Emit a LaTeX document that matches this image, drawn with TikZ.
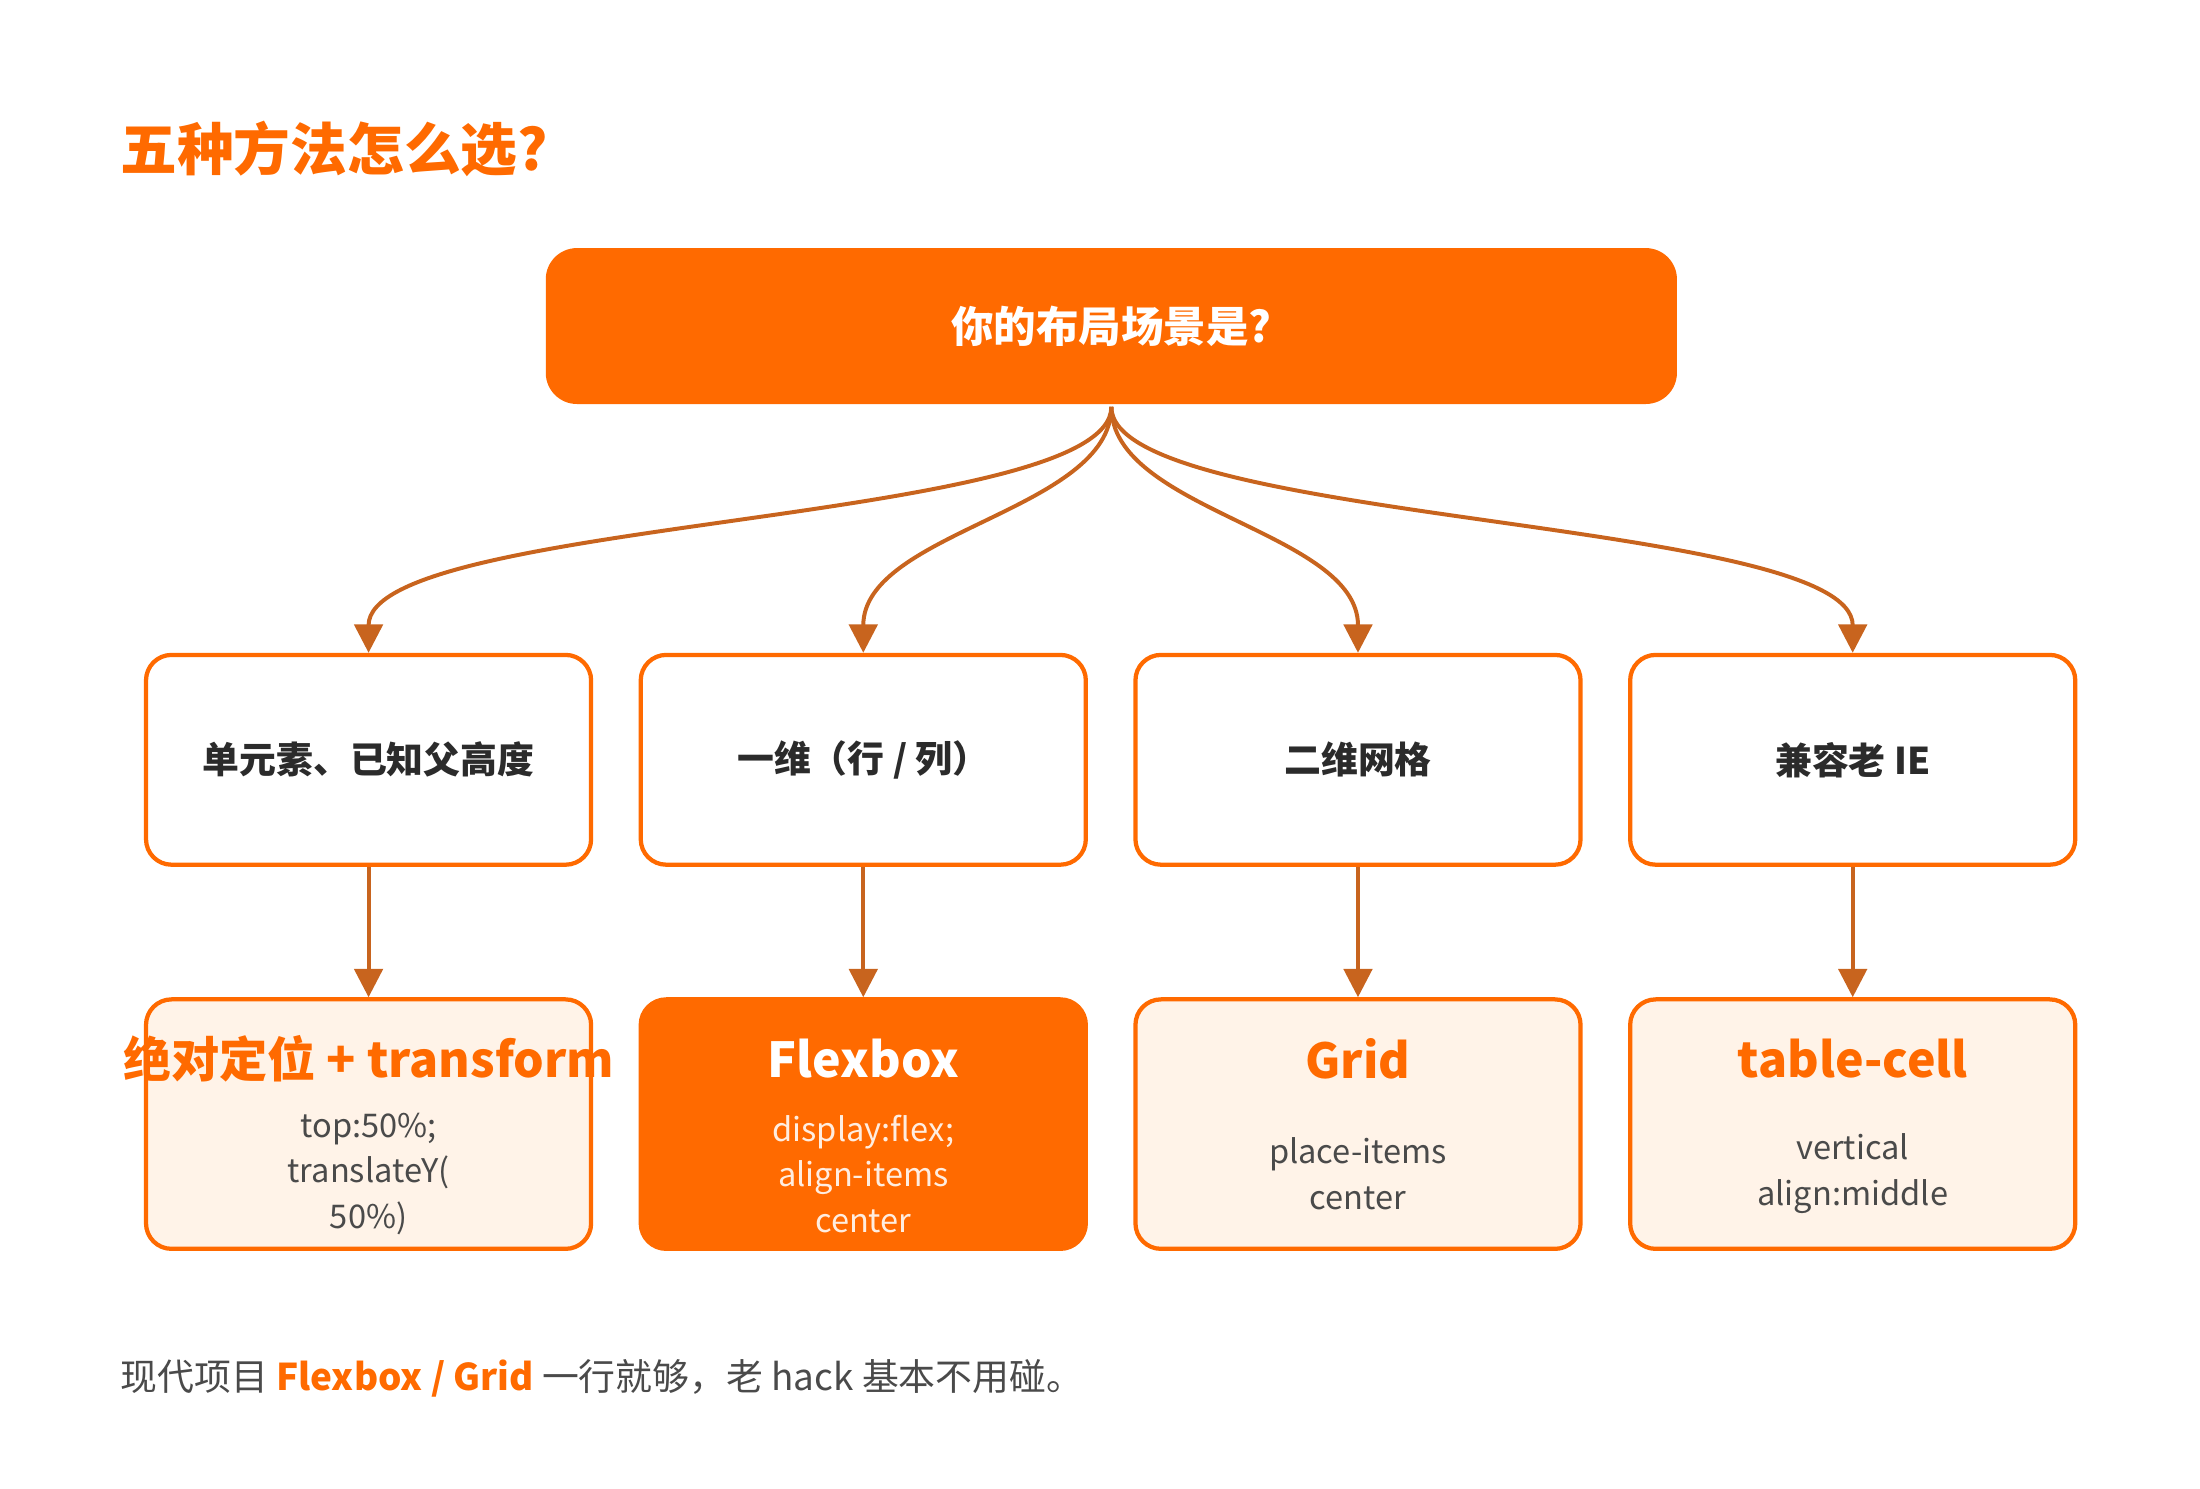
\documentclass[tikz,border=0pt]{standalone}
\usepackage{fontspec}
\setmainfont{Noto Sans CJK SC}
\usetikzlibrary{arrows.meta}
\definecolor{org}{HTML}{FF6A00}
\definecolor{arr}{HTML}{C8641E}
\definecolor{lt}{HTML}{FFF3E8}
\definecolor{dk}{HTML}{2B2B2B}
\definecolor{gr}{HTML}{4A4A4A}
\begin{document}
\begin{tikzpicture}[x=0.5pt,y=-0.5pt,
 mid/.style={draw=org,line width=1.5pt,fill=white,rounded corners=9pt,minimum width=157pt,minimum height=74pt,font=\bfseries\fontsize{13}{15}\selectfont,text=dk},
 bot/.style={draw=org,line width=1.5pt,fill=lt,rounded corners=9pt,minimum width=157pt,minimum height=88pt},
 ttl/.style={font=\bfseries\fontsize{17}{20}\selectfont,text=org},
 sub/.style={font=\fontsize{11.5}{16}\selectfont,text=gr,align=center},
 con/.style={draw=arr,line width=1.4pt,-{Triangle[length=10pt,width=10pt]}}]
\useasboundingbox (0,0) rectangle (1552,1050);
\node[anchor=west,font=\bfseries\fontsize{20}{24}\selectfont,text=org] (title) at (78,105) {五种方法怎么选?};
\node[fill=org,rounded corners=11pt,minimum width=399pt,minimum height=55pt,text=white,font=\bfseries\fontsize{15}{18}\selectfont] (top) at (784,230) {你的布局场景是?};
\node[mid] (m1) at (260,536) {单元素、已知父高度};
\node[mid] (m2) at (609,536) {一维（行 / 列）};
\node[mid] (m3) at (958,536) {二维网格};
\node[mid] (m4) at (1307,536) {兼容老 IE};
\node[bot] (b1) at (260,793) {};
\node[bot,fill=org] (b2) at (609,793) {};
\node[bot] (b3) at (958,793) {};
\node[bot] (b4) at (1307,793) {};
\node[ttl] (t1) at (260,747) {绝对定位 + transform};
\node[ttl,text=white] (t2) at (609,747) {Flexbox};
\node[ttl] (t3) at (958,747) {Grid};
\node[ttl] (t4) at (1307,747) {table-cell};
\node[sub] (s1) at (260,828) {top:50\%;\\translateY(\\50\%)};
\node[sub,text=white!88!org] (s2) at (609,828) {display:flex;\\align-items\\center};
\node[sub] (s3) at (958,828) {place-items\\center};
\node[sub] (s4) at (1307,828) {vertical\\align:middle};
\coordinate (o) at (784,287);
\draw[con] (o) .. controls (784,370) and (260,365) .. (m1.north);
\draw[con] (o) .. controls (784,360) and (609,375) .. (m2.north);
\draw[con] (o) .. controls (784,360) and (958,375) .. (m3.north);
\draw[con] (o) .. controls (784,370) and (1307,365) .. (m4.north);
\draw[con] (m1) -- (b1);
\draw[con] (m2) -- (b2);
\draw[con] (m3) -- (b3);
\draw[con] (m4) -- (b4);
\node[anchor=west,font=\fontsize{13}{16}\selectfont,text=gr] (foot) at (78,972) {现代项目 \textbf{\color{org}Flexbox / Grid} 一行就够，老 hack 基本不用碰。};
\end{tikzpicture}
\end{document}
